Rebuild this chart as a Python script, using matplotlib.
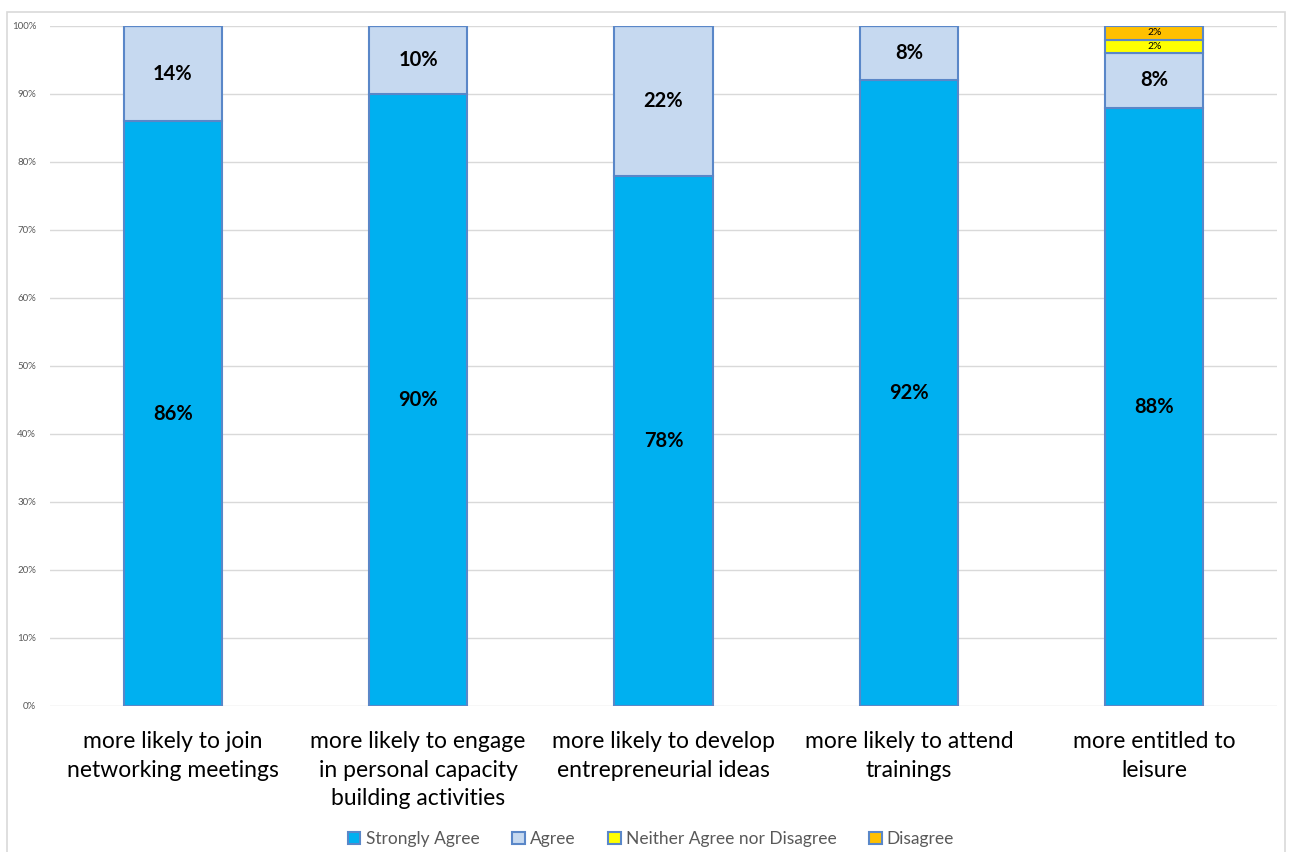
import numpy as np
import matplotlib.pyplot as plt
from matplotlib.patches import Rectangle

# survey results, percent of respondents
categories = [
    "more likely to join\nnetworking meetings",
    "more likely to engage\nin personal capacity\nbuilding activities",
    "more likely to develop\nentrepreneurial ideas",
    "more likely to attend\ntrainings",
    "more entitled to\nleisure",
]
strongly_agree = [86, 90, 78, 92, 88]
agree = [14, 10, 22, 8, 8]
neither = [0, 0, 0, 0, 2]
disagree = [0, 0, 0, 0, 2]

series_names = ["Strongly Agree", "Agree", "Neither Agree nor Disagree", "Disagree"]
series_vals = [strongly_agree, agree, neither, disagree]
colors = ["#00B0F0", "#C6D9F0", "#FFFF00", "#FFC000"]
edge = "#5A87C8"

plt.rcParams['font.family'] = ['Lato', 'DejaVu Sans']

fig = plt.figure(figsize=(12.89, 8.52), dpi=100)
ax = fig.add_axes([0.0388, 0.1714, 0.9519, 0.7981])

# light chart frame
fig.patches.append(Rectangle((0.0055, -0.01), 0.9915, 0.9965, transform=fig.transFigure,
                             fill=False, edgecolor="#D9D9D9", linewidth=1.2))

x = np.arange(len(categories))
bottom = np.zeros(len(categories))
for name, vals, c in zip(series_names, series_vals, colors):
    vals = np.array(vals, dtype=float)
    ax.bar(x, vals, 0.4, bottom=bottom, color=c, edgecolor=edge, linewidth=1.5,
           label=name, zorder=3)
    for xi, b, v in zip(x, bottom, vals):
        if v <= 0:
            continue
        if v >= 5:
            ax.text(xi, b + v / 2, f"{v:.0f}%", ha="center", va="center",
                    fontsize=14.5, fontweight="bold", color="black", zorder=4)
        else:
            ax.text(xi, b + v / 2, f"{v:.0f}%", ha="center", va="center",
                    fontsize=7.5, color="black", zorder=4)
    bottom += vals

ax.set_xlim(-0.5, len(categories) - 0.5)
ax.set_ylim(0, 100)
ax.set_yticks(np.arange(0, 101, 10))
ax.set_yticklabels([f"{t}%" for t in range(0, 101, 10)], fontsize=7, color="#595959")
ax.yaxis.grid(True, color="#D9D9D9", linewidth=1, zorder=0)
ax.set_axisbelow(True)
ax.tick_params(axis="y", length=0, pad=10)
ax.tick_params(axis="x", length=0, pad=18)
ax.set_xticks(x)
ax.set_xticklabels(categories, fontsize=16.5, color="black", linespacing=1.45)
for s in ax.spines.values():
    s.set_visible(False)

ax.legend(loc="center", bbox_to_anchor=(0.49, -0.196), ncol=4, frameon=False,
          fontsize=12.5, labelcolor="#595959", handlelength=0.7, handleheight=0.7,
          handletextpad=0.3, columnspacing=1.9)

fig.savefig("out.png", dpi=100)
